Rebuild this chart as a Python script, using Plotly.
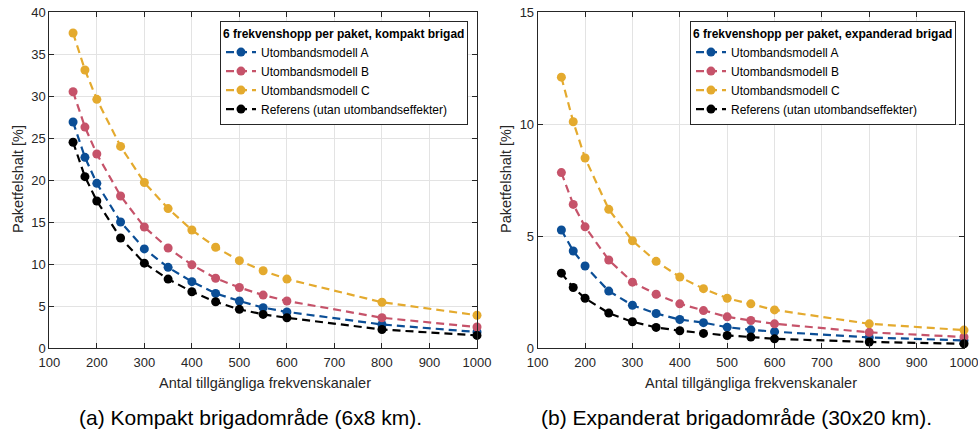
import plotly.graph_objects as go

channels = [150, 175, 200, 250, 300, 350, 400, 450, 500, 550, 600, 800, 1000]

# (a) Kompakt brigad
a_model_A = [26.9, 22.7, 19.6, 15.0, 11.8, 9.6, 7.9, 6.5, 5.6, 4.8, 4.3, 2.8, 1.9]
a_model_B = [30.5, 26.3, 23.1, 18.1, 14.4, 11.9, 9.9, 8.3, 7.2, 6.3, 5.6, 3.6, 2.5]
a_model_C = [37.5, 33.1, 29.6, 24.0, 19.7, 16.6, 14.05, 12.0, 10.4, 9.2, 8.2, 5.45, 3.9]
a_ref = [24.5, 20.4, 17.5, 13.1, 10.1, 8.2, 6.7, 5.5, 4.6, 4.0, 3.6, 2.2, 1.5]

# (b) Expanderad brigad
b_model_A = [5.27, 4.33, 3.66, 2.54, 1.91, 1.54, 1.27, 1.13, 0.93, 0.81, 0.73, 0.47, 0.34]
b_model_B = [7.83, 6.41, 5.41, 3.93, 2.94, 2.40, 1.97, 1.67, 1.39, 1.23, 1.08, 0.70, 0.49]
b_model_C = [12.09, 10.1, 8.48, 6.19, 4.79, 3.87, 3.17, 2.65, 2.22, 1.97, 1.70, 1.08, 0.80]
b_ref = [3.34, 2.70, 2.22, 1.56, 1.17, 0.92, 0.77, 0.65, 0.56, 0.49, 0.41, 0.27, 0.19]

names = ["Utombandsmodell A", "Utombandsmodell B", "Utombandsmodell C",
         "Referens (utan utombandseffekter)"]
colors = ["#0b4e96", "#c6536a", "#e4aa2e", "#000000"]

legend_titles = ["6 frekvenshopp per paket, kompakt brigad",
                 "6 frekvenshopp per paket, expanderad brigad"]
captions = ["(a) Kompakt brigadområde (6x8 km).",
            "(b) Expanderat brigadområde (30x20 km)."]
x_title = "Antal tillgängliga frekvenskanaler"
y_title = "Paketfelshalt [%]"
x_ticks = [100, 200, 300, 400, 500, 600, 700, 800, 900, 1000]
y_ticks_a = [0, 5, 10, 15, 20, 25, 30, 35, 40]
y_ticks_b = [0, 5, 10, 15]

W, H = 978, 434
FONT = "Liberation Sans, Arial, sans-serif"
AX = "#262626"

fig = go.Figure()

panels = [
    ([a_model_A, a_model_B, a_model_C, a_ref], "x", "y", "legend"),
    ([b_model_A, b_model_B, b_model_C, b_ref], "x2", "y2", "legend2"),
]
for series, xa, ya, lg in panels:
    for vals, name, col in zip(series, names, colors):
        fig.add_trace(go.Scatter(
            x=channels, y=vals, name=name, mode="lines+markers",
            xaxis=xa, yaxis=ya, legend=lg,
            line=dict(color=col, width=2.2, dash="8px,5px"),
            marker=dict(color=col, size=9),
            cliponaxis=False,
        ))

def px_x(p):
    return p / W

def px_y(p):
    return 1 - p / H

ydom = [px_y(348), px_y(12)]
axis_common = dict(
    showline=True, linecolor=AX, linewidth=1, mirror="ticks",
    ticks="inside", ticklen=5, tickcolor=AX,
    showgrid=True, gridcolor="#e3e3e3", gridwidth=1,
    zeroline=False, tickfont=dict(family=FONT, size=13, color=AX),
    automargin=False, ticklabeloverflow="allow",
)
x_extra = dict(ticklabelstandoff=2)

legend_common = dict(
    xanchor="left", yanchor="top",
    bgcolor="white", bordercolor=AX, borderwidth=1,
    font=dict(family=FONT, size=12, color="#000000"),
    tracegroupgap=0, itemwidth=30,
)

fig.update_layout(
    width=W, height=H,
    margin=dict(l=0, r=0, t=0, b=0, autoexpand=False),
    paper_bgcolor="white", plot_bgcolor="white",
    font=dict(family=FONT, color=AX),
    xaxis=dict(domain=[px_x(49.3), px_x(477)], range=[100, 1000], tickvals=x_ticks,
               anchor="y", **axis_common, **x_extra),
    yaxis=dict(domain=ydom, range=[0, 40], tickvals=y_ticks_a, anchor="x",
               **axis_common),
    xaxis2=dict(domain=[px_x(537.7), px_x(964)], range=[100, 1000], tickvals=x_ticks,
                anchor="y2", **axis_common, **x_extra),
    yaxis2=dict(domain=ydom, range=[0, 15], tickvals=y_ticks_b, anchor="x2",
                **axis_common),
    legend=dict(x=px_x(220), y=px_y(21),
                title=dict(text="<b>" + legend_titles[0] + "</b>", side="top",
                           font=dict(family=FONT, size=12, color="#000000")),
                **legend_common),
    legend2=dict(x=px_x(690), y=px_y(21),
                 title=dict(text="<b>" + legend_titles[1] + "</b>", side="top",
                            font=dict(family=FONT, size=12, color="#000000")),
                 **legend_common),
    showlegend=True,
)

# axis titles
for cx in [264.5, 751]:
    fig.add_annotation(x=px_x(cx), y=px_y(383), xref="paper", yref="paper",
                       text=x_title, showarrow=False, xanchor="center", yanchor="middle",
                       font=dict(family=FONT, size=14.5, color=AX))
for cx in [18, 506]:
    fig.add_annotation(x=px_x(cx), y=px_y(179), xref="paper", yref="paper",
                       text=y_title, showarrow=False, xanchor="center", yanchor="middle",
                       textangle=-90, font=dict(family=FONT, size=14.5, color=AX))

# captions
for cx, txt in zip([251, 736.5], captions):
    fig.add_annotation(x=px_x(cx), y=px_y(417), xref="paper", yref="paper",
                       text=txt, showarrow=False, xanchor="center", yanchor="middle",
                       font=dict(family=FONT, size=21, color="#000000"))

# separator lines under legend titles
for x0, x1 in [(220, 468), (690, 954)]:
    fig.add_shape(type="line", xref="paper", yref="paper",
                  x0=px_x(x0), x1=px_x(x1), y0=px_y(42), y1=px_y(42),
                  line=dict(color=AX, width=1))

# remove the default page margin so the figure fills the window exactly
fig.write_html("out.html", config={"displayModeBar": False},
               post_script="document.body.style.margin='0px';")
